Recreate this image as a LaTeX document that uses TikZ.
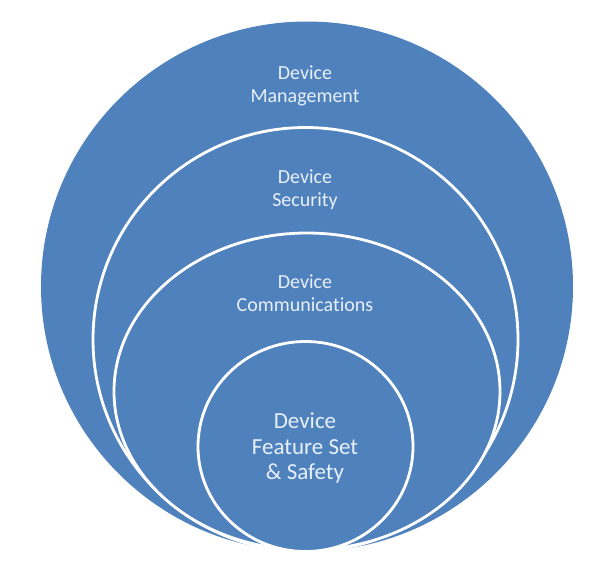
\documentclass[tikz,border=0pt]{standalone}
\usepackage{fontspec}
\setmainfont{Carlito}[Ligatures=NoCommon]
\usepackage{tkz-euclide}
\usetikzlibrary{calc}

\definecolor{ringblue}{RGB}{79,129,189}
\definecolor{ringtext}{RGB}{232,240,250}

\tikzset{
  ring/.style={fill=ringblue,draw=white,line width=2.8pt},
  ringlabel/.style={text=ringtext,align=center,inner sep=0pt,font=\fontsize{20}{23}\selectfont},
  corelabel/.style={ringlabel,font=\fontsize{23}{25.5}\selectfont}
}

\begin{document}
\begin{tikzpicture}[x=1pt,y=-1pt]
        \useasboundingbox (0,0) rectangle (608,571);
        \tkzDefPoints{307/286.5/M,305.5/339.5/S,307/391.5/C,305.5/446.5/F}
        % rings, outermost first
        \fill[ringblue] (M) ellipse [x radius=266,y radius=265];
        \path[ring] (S) ellipse [x radius=212.5,y radius=212];
        \path[ring] (C) ellipse [x radius=193,y radius=158.5];
        \path[ring] (F) ellipse [x radius=107.5,y radius=105];
        % labels
        \node[ringlabel] (mgmt) at (305,86) {Device\\Management};
        \node[ringlabel] (sec) at (305,189.5) {Device\\Security};
        \node[ringlabel] (comm) at (305,293) {Device\\Communications};
        \node[corelabel] (feat) at (305,448) {Device\\Feature Set\\\& Safety};
    \end{tikzpicture}
\end{document}
